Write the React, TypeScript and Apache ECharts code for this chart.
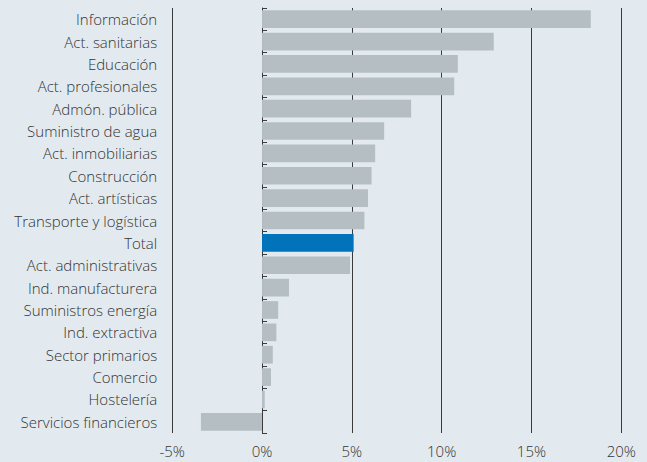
import React, { useEffect, useRef } from "react";
import * as echarts from "echarts";

const categories = [
  "Información",
  "Act. sanitarias",
  "Educación",
  "Act. profesionales",
  "Admón. pública",
  "Suministro de agua",
  "Act. inmobiliarias",
  "Construcción",
  "Act. artísticas",
  "Transporte y logística",
  "Total",
  "Act. administrativas",
  "Ind. manufacturera",
  "Suministros energía",
  "Ind. extractiva",
  "Sector primarios",
  "Comercio",
  "Hostelería",
  "Servicios financieros",
];

const values = [
  18.3, 12.9, 10.9, 10.7, 8.3, 6.8, 6.3, 6.1, 5.9, 5.7, 5.1, 4.9, 1.5, 0.9, 0.8,
  0.6, 0.5, 0.15, -3.4,
];

const highlight = "Total";

export default function App() {
  const ref = useRef<HTMLDivElement>(null);
  useEffect(() => {
    if (!ref.current) return;
    const chart = echarts.init(ref.current, null, { renderer: "svg" });
    const font = "'Open Sans', 'Noto Sans', sans-serif";
    chart.setOption({
      animation: false,
      backgroundColor: "#e2eaf0",
      grid: {
        left: 172.2,
        right: 25.7,
        top: 8,
        bottom: 29,
        containLabel: false,
        outerBoundsMode: "none",
      },
      xAxis: {
        type: "value",
        min: -5,
        max: 20,
        interval: 5,
        axisLine: { show: false },
        axisTick: { show: false },
        axisLabel: {
          formatter: "{value}%",
          color: "#333",
          fontSize: 15,
          fontWeight: 300,
          fontFamily: font,
          margin: 10,
        },
        splitLine: { show: true, lineStyle: { color: "#3a3a3a", width: 1 } },
      },
      yAxis: {
        type: "category",
        data: categories,
        inverse: true,
        axisLine: { show: true, onZero: true, lineStyle: { color: "#3a3a3a", width: 1 } },
        axisTick: { show: true, inside: true, length: 5, lineStyle: { color: "#3a3a3a" } },
        axisLabel: {
          color: "#333",
          fontSize: 15,
          fontWeight: 300,
          fontFamily: font,
          margin: 15,
        },
      },
      series: [
        {
          type: "bar",
          data: values.map((v, i) => ({
            value: v,
            itemStyle: { color: categories[i] === highlight ? "#0073bb" : "#b4bec3" },
          })),
          barCategoryGap: "21%",
        },
      ],
    });
    return () => chart.dispose();
  }, []);
  return (
    <div
      ref={ref}
      style={{ position: "absolute", left: 0, top: 0, width: 647, height: 462 }}
    />
  );
}
